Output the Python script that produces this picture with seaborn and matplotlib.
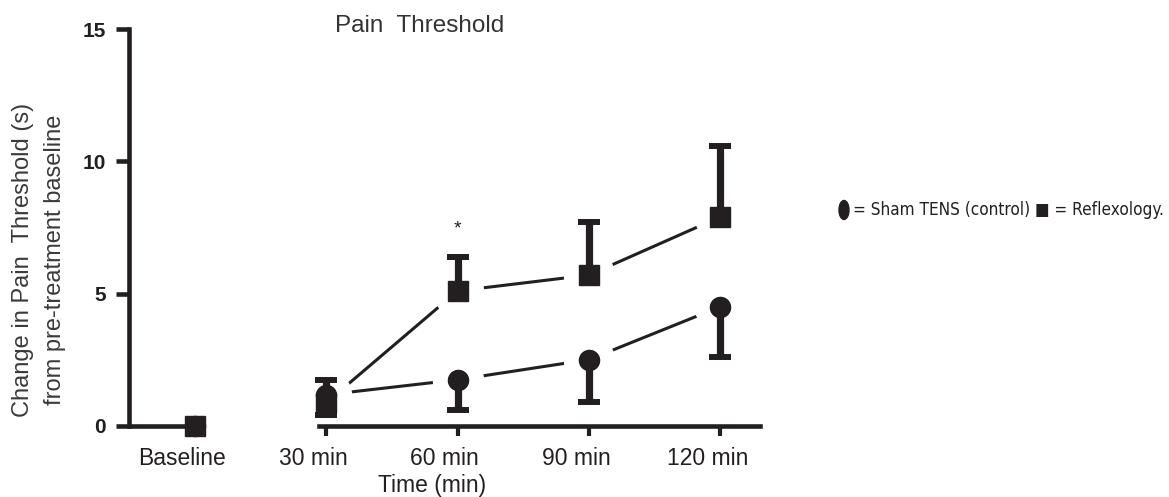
import numpy as np
import pandas as pd
import matplotlib
matplotlib.use("Agg")
import matplotlib.pyplot as plt
import matplotlib.transforms as mtransforms
from matplotlib.patches import Ellipse
import seaborn as sns

# data
times = ['Baseline', '30 min', '60 min', '90 min', '120 min']
sham_mean = [0.0, 1.17, 1.74, 2.5, 4.5]
sham_lower = [0.0, 0.42, 0.6, 0.9, 2.6]
refl_mean = [0.0, 0.87, 5.1, 5.7, 7.9]
refl_upper = [0.0, 1.74, 6.4, 7.7, 10.6]
sig_index = 2  # '*' above 60 min

ink = '#231f20'
pos = np.arange(len(times))

sns.set_style("ticks")
plt.rcParams['font.family'] = ['Liberation Sans', 'DejaVu Sans']

fig = plt.figure(figsize=(11.69, 4.97), dpi=100)
ax = fig.add_axes([129 / 1169, 71.3 / 497, 631 / 1169, 396.4 / 497])

# connecting lines (baseline is not joined to the rest)
df = pd.DataFrame({
    'pos': np.concatenate([pos[1:], pos[1:]]),
    'value': np.concatenate([sham_mean[1:], refl_mean[1:]]),
    'group': ['Sham TENS'] * 4 + ['Reflexology'] * 4,
})
sns.lineplot(data=df, x='pos', y='value', hue='group',
             palette={'Sham TENS': ink, 'Reflexology': ink},
             linewidth=2.2, legend=False, ax=ax, zorder=2)

# white halo so the lines stop short of the symbols
ax.plot(pos[1:], sham_mean[1:], 'o', ms=36, color='white', zorder=2.2)
ax.plot(pos[1:], refl_mean[1:], 'o', ms=36, color='white', zorder=2.2)

# one-sided error bars: sham downwards, reflexology upwards
ax.vlines(pos[1:], sham_lower[1:], sham_mean[1:], color=ink, lw=5.2, zorder=4)
ax.plot(pos[1:], sham_lower[1:], '_', ms=16.5, mew=4.3, color=ink, zorder=4)
ax.vlines(pos[1:], refl_mean[1:], refl_upper[1:], color=ink, lw=5.2, zorder=4)
ax.plot(pos[1:], refl_upper[1:], '_', ms=16.5, mew=4.3, color=ink, zorder=4)

ax.plot(pos, sham_mean, 'o', ms=14.5, color=ink, mec=ink, zorder=5, clip_on=False)
ax.plot(pos, refl_mean, 's', ms=14, color=ink, mec=ink, zorder=5, clip_on=False)

ax.annotate('*', (pos[sig_index], refl_upper[sig_index]), xytext=(0, 20),
            textcoords='offset points', ha='center', va='center',
            fontsize=14, color=ink)

# axes, broken x axis like the original
ax.set_xlim(-0.5027, 4.303)
ax.set_ylim(0, 15)
sns.despine(ax=ax)
ax.spines['left'].set_bounds(0, 15)
ax.spines['bottom'].set_bounds(0.944, 4.303)
for sp in ['left', 'bottom']:
    ax.spines[sp].set_linewidth(3.3)
    ax.spines[sp].set_color(ink)
ax.plot([-0.5027, 0.06], [0, 0], color=ink, lw=3.3, solid_capstyle='butt',
        clip_on=False, zorder=2.6)

ax.set_yticks([0, 5, 10, 15])
ax.set_yticklabels(['0', '5', '10', '15'], fontsize=15, fontweight='bold', color=ink)
ax.tick_params(axis='y', length=9.5, width=3.3, pad=7, color=ink)
ax.set_xticks(pos)
ax.set_xticklabels(times, fontsize=16.5, color=ink)
ax.tick_params(axis='x', length=7, width=3, pad=8, color=ink)
shift = mtransforms.ScaledTranslation(-13 / 100, 0, fig.dpi_scale_trans)
for lab in ax.get_xticklabels():
    lab.set_transform(lab.get_transform() + shift)

ax.set_xlabel('Time (min)', fontsize=16.5, color=ink)
ax.xaxis.set_label_coords(0.48, -0.122)
ax.set_ylabel('Change in Pain  Threshold (s)\nfrom pre-treatment baseline',
              fontsize=17, color='#3a3a3a', linespacing=1.6)
ax.yaxis.set_label_coords(-0.143, 0.418)
ax.yaxis.label.set_verticalalignment('center')
ax.set_title('Pain  Threshold', fontsize=17.5, color='#333333', x=0.461, y=0.993, pad=0)

# key beside the chart: tall black ellipse symbol, then text
fig.patches.append(Ellipse((844 / 1169, 0.5775), 10 / 1169, 19 / 497,
                           transform=fig.transFigure, color=ink))
fig.text(853 / 1169, 0.5775, '= Sham TENS (control) \u25a0 = Reflexology.',
         family=['DejaVu Sans'], fontstretch='condensed', fontsize=12.3,
         color=ink, va='center', ha='left')

fig.savefig('out.png', dpi=100)
